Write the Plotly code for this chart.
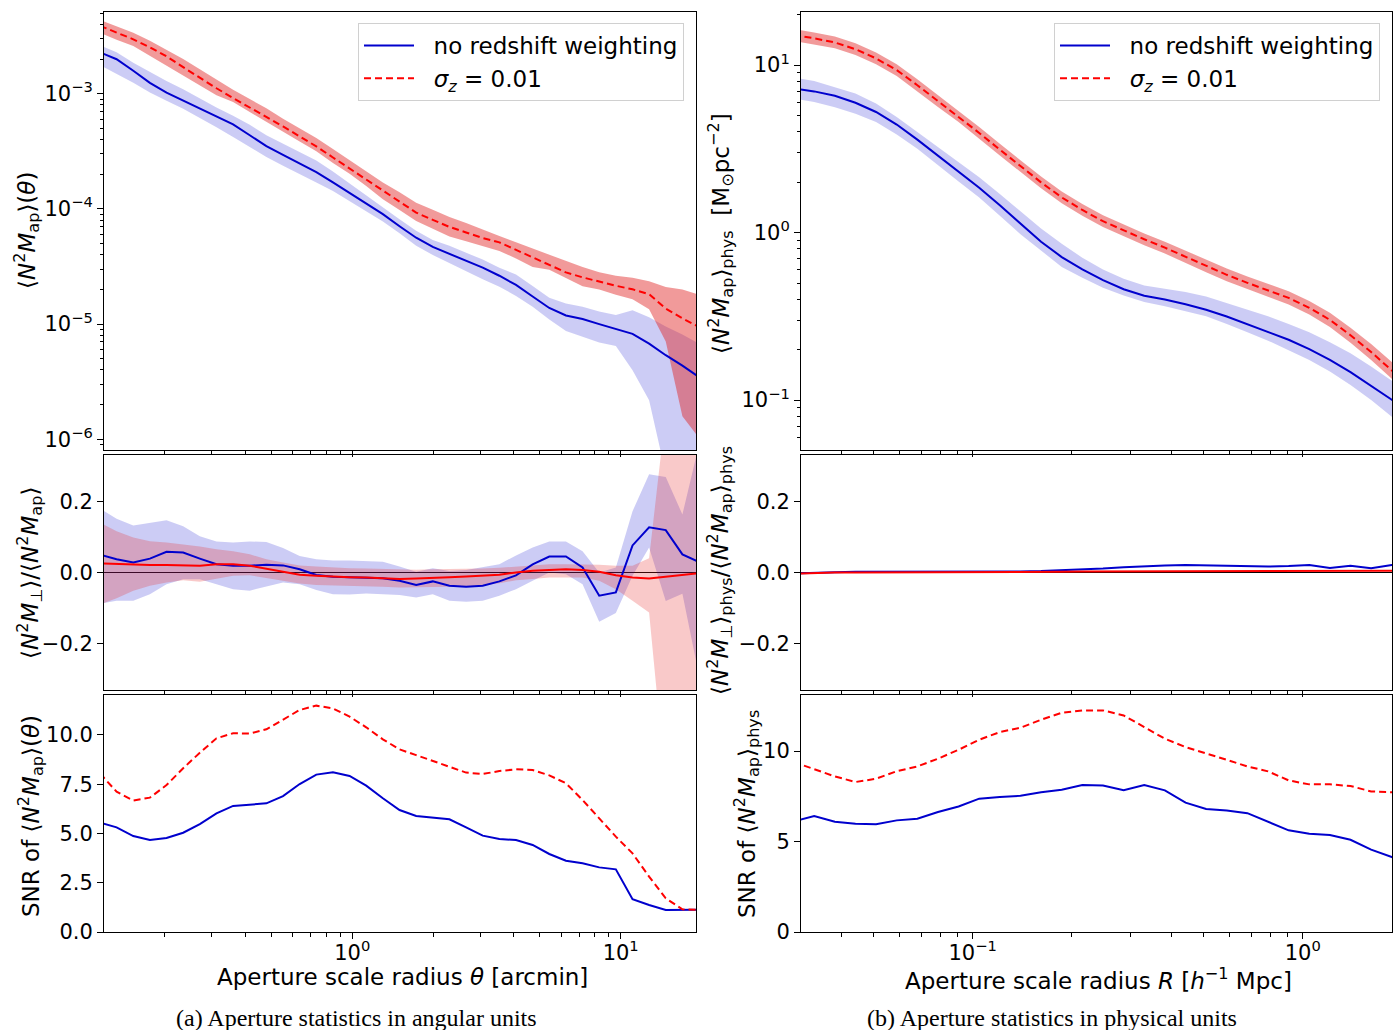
import plotly.graph_objects as go
from plotly.subplots import make_subplots

# ---------------- data ----------------
# aperture radii in arcmin (left column)
theta = [0.1148, 0.1324, 0.1528, 0.1762, 0.2032, 0.2344, 0.2704, 0.3119, 0.3597, 0.4150,
         0.4786, 0.5521, 0.6368, 0.7345, 0.8472, 0.9772, 1.127, 1.300, 1.500, 1.730,
         1.995, 2.301, 2.655, 3.062, 3.532, 4.074, 4.699, 5.420, 6.252, 7.211,
         8.318, 9.594, 11.07, 12.76, 14.72, 16.98, 19.59]

# <N^2 Map>(theta), stored as log10 values
top_blue_ang = [-2.64, -2.70, -2.80, -2.905, -2.99, -3.06, -3.13, -3.195, -3.265, -3.36,
                -3.455, -3.53, -3.605, -3.68, -3.77, -3.86, -3.95, -4.045, -4.15, -4.25,
                -4.33, -4.39, -4.445, -4.51, -4.58, -4.66, -4.76, -4.86, -4.925, -4.955,
                -5.00, -5.04, -5.085, -5.17, -5.27, -5.36, -5.46]
top_blue_ang_hi = [-2.58, -2.64, -2.73, -2.81, -2.89, -2.96, -3.04, -3.12, -3.19, -3.27,
                   -3.36, -3.435, -3.51, -3.58, -3.675, -3.78, -3.885, -3.985, -4.09, -4.19,
                   -4.27, -4.32, -4.38, -4.44, -4.51, -4.57, -4.67, -4.77, -4.82, -4.85,
                   -4.89, -4.92, -4.88, -4.94, -5.02, -5.09, -5.17]
top_blue_ang_lo = [-2.75, -2.83, -2.905, -2.99, -3.06, -3.13, -3.21, -3.29, -3.375, -3.46,
                   -3.55, -3.625, -3.70, -3.77, -3.845, -3.93, -4.02, -4.11, -4.21, -4.32,
                   -4.40, -4.47, -4.54, -4.61, -4.675, -4.755, -4.85, -4.96, -5.06, -5.11,
                   -5.16, -5.19, -5.40, -5.66, -6.30, -7.00, -7.00]
top_red_ang = [-2.41, -2.468, -2.527, -2.597, -2.675, -2.769, -2.861, -2.952, -3.037, -3.118,
               -3.198, -3.284, -3.37, -3.457, -3.553, -3.648, -3.746, -3.844, -3.939, -4.032,
               -4.095, -4.156, -4.204, -4.252, -4.29, -4.355, -4.423, -4.487, -4.551, -4.594,
               -4.633, -4.667, -4.698, -4.74, -4.865, -4.95, -5.025]
top_red_ang_hi = [-2.36, -2.416, -2.47, -2.54, -2.618, -2.697, -2.788, -2.88, -2.965, -3.046,
                  -3.126, -3.216, -3.298, -3.385, -3.48, -3.575, -3.67, -3.771, -3.855, -3.946,
                  -4.008, -4.07, -4.123, -4.176, -4.235, -4.29, -4.345, -4.40, -4.455, -4.505,
                  -4.55, -4.58, -4.597, -4.628, -4.678, -4.70, -4.745]
top_red_ang_lo = [-2.47, -2.53, -2.585, -2.665, -2.75, -2.84, -2.926, -3.012, -3.072, -3.158,
                  -3.244, -3.33, -3.415, -3.50, -3.60, -3.695, -3.80, -3.915, -4.01, -4.104,
                  -4.17, -4.24, -4.28, -4.32, -4.365, -4.43, -4.505, -4.529, -4.60, -4.672,
                  -4.70, -4.745, -4.785, -4.87, -5.15, -5.80, -5.99]

# <N^2 M_perp>/<N^2 Map>
mid_blue_ang = [0.050, 0.037, 0.028, 0.039, 0.058, 0.056, 0.039, 0.023, 0.019, 0.019,
                0.022, 0.020, 0.009, -0.007, -0.012, -0.013, -0.014, -0.016, -0.023, -0.035,
                -0.025, -0.037, -0.040, -0.037, -0.025, -0.008, 0.023, 0.045, 0.045, 0.014,
                -0.065, -0.056, 0.076, 0.127, 0.119, 0.051, 0.029]
mid_blue_ang_hi = [0.180, 0.151, 0.132, 0.140, 0.147, 0.130, 0.102, 0.087, 0.084, 0.087,
                   0.086, 0.069, 0.046, 0.037, 0.034, 0.034, 0.032, 0.030, 0.017, 0.002,
                   0.012, 0.004, 0.007, 0.014, 0.023, 0.048, 0.070, 0.087, 0.087, 0.060,
                   0.000, 0.014, 0.172, 0.276, 0.268, 0.163, 0.360]
mid_blue_ang_lo = [-0.088, -0.079, -0.079, -0.061, -0.033, -0.019, -0.019, -0.033, -0.047, -0.051,
                   -0.039, -0.028, -0.033, -0.049, -0.061, -0.062, -0.059, -0.060, -0.063, -0.070,
                   -0.061, -0.079, -0.082, -0.079, -0.065, -0.047, -0.023, 0.000, -0.005, -0.033,
                   -0.138, -0.114, -0.009, 0.070, -0.080, -0.060, -0.290]
mid_red_ang = [0.026, 0.024, 0.021, 0.021, 0.021, 0.019, 0.019, 0.023, 0.023, 0.019,
               0.011, 0.002, -0.006, -0.009, -0.012, -0.013, -0.014, -0.016, -0.018, -0.017,
               -0.016, -0.013, -0.011, -0.009, -0.006, 0.000, 0.005, 0.007, 0.009, 0.007,
               0.002, -0.008, -0.014, -0.017, -0.012, -0.009, -0.002]
mid_red_ang_hi = [0.140, 0.116, 0.098, 0.088, 0.084, 0.079, 0.073, 0.065, 0.060, 0.051,
                  0.037, 0.028, 0.020, 0.017, 0.014, 0.012, 0.011, 0.010, 0.008, 0.008,
                  0.009, 0.009, 0.010, 0.011, 0.013, 0.017, 0.020, 0.023, 0.023, 0.023,
                  0.022, 0.019, 0.019, 0.040, 0.450, 0.700, 0.700]
mid_red_ang_lo = [-0.090, -0.072, -0.051, -0.037, -0.028, -0.022, -0.026, -0.017, -0.009, -0.008,
                  -0.014, -0.023, -0.031, -0.035, -0.037, -0.038, -0.039, -0.040, -0.042, -0.041,
                  -0.042, -0.040, -0.039, -0.036, -0.030, -0.022, -0.018, -0.014, -0.014, -0.014,
                  -0.023, -0.047, -0.079, -0.112, -0.600, -0.600, -0.450]

# SNR in angular units
snr_blue_ang = [5.55, 5.31, 4.87, 4.67, 4.77, 5.04, 5.48, 6.02, 6.40, 6.46,
                6.53, 6.90, 7.51, 7.99, 8.11, 7.92, 7.43, 6.79, 6.19, 5.89,
                5.82, 5.72, 5.31, 4.89, 4.72, 4.67, 4.42, 3.96, 3.62, 3.49,
                3.28, 3.18, 1.66, 1.37, 1.12, 1.13, 1.13]
snr_red_ang = [8.05, 7.12, 6.67, 6.82, 7.46, 8.31, 9.10, 9.83, 10.09, 10.07,
               10.29, 10.76, 11.27, 11.49, 11.35, 10.93, 10.39, 9.78, 9.27, 8.98,
               8.68, 8.36, 8.09, 8.02, 8.17, 8.26, 8.22, 7.95, 7.55, 6.70,
               5.77, 4.84, 3.99, 2.81, 1.71, 1.15, 1.12]

# aperture radii in h^-1 Mpc (right column)
r_phys = [0.02868, 0.03311, 0.03824, 0.04416, 0.05098, 0.05888, 0.06799, 0.07852, 0.09066, 0.1047,
          0.1209, 0.1396, 0.1612, 0.1862, 0.2150, 0.2483, 0.2868, 0.3311, 0.3824, 0.4416,
          0.5098, 0.5888, 0.6799, 0.7852, 0.9066, 1.047, 1.209, 1.396, 1.612, 1.862, 2.150]

# <N^2 Map>_phys, stored as log10 values
top_blue_phys = [0.86, 0.843, 0.817, 0.775, 0.72, 0.645, 0.555, 0.458, 0.366, 0.268,
                 0.163, 0.053, -0.055, -0.146, -0.219, -0.284, -0.338, -0.377, -0.40, -0.428,
                 -0.461, -0.501, -0.547, -0.593, -0.640, -0.696, -0.760, -0.833, -0.915, -1.00, -1.08]
top_blue_phys_hi = [0.925, 0.905, 0.868, 0.83, 0.77, 0.69, 0.60, 0.51, 0.42, 0.33,
                    0.23, 0.126, 0.025, -0.067, -0.15, -0.22, -0.275, -0.316, -0.335, -0.355,
                    -0.382, -0.421, -0.461, -0.50, -0.545, -0.595, -0.655, -0.72, -0.80, -0.885, -0.96]
top_blue_phys_lo = [0.80, 0.78, 0.748, 0.71, 0.66, 0.585, 0.50, 0.40, 0.305, 0.21,
                    0.10, -0.01, -0.11, -0.205, -0.27, -0.33, -0.375, -0.415, -0.44, -0.47,
                    -0.50, -0.545, -0.595, -0.645, -0.70, -0.76, -0.83, -0.91, -1.00, -1.10, -1.20]
top_red_phys = [1.18, 1.16, 1.135, 1.095, 1.04, 0.97, 0.88, 0.785, 0.695, 0.595,
                0.495, 0.395, 0.30, 0.21, 0.135, 0.068, 0.012, -0.04, -0.09, -0.145,
                -0.20, -0.252, -0.30, -0.345, -0.39, -0.449, -0.521, -0.613, -0.713, -0.823, -0.92]
top_red_phys_hi = [1.215, 1.195, 1.17, 1.13, 1.075, 1.005, 0.915, 0.82, 0.73, 0.63,
                   0.53, 0.43, 0.335, 0.245, 0.17, 0.103, 0.047, -0.005, -0.055, -0.108,
                   -0.163, -0.214, -0.262, -0.306, -0.35, -0.409, -0.479, -0.568, -0.665, -0.773, -0.87]
top_red_phys_lo = [1.145, 1.125, 1.10, 1.06, 1.005, 0.935, 0.845, 0.75, 0.66, 0.56,
                   0.46, 0.36, 0.265, 0.175, 0.10, 0.033, -0.023, -0.075, -0.125, -0.182,
                   -0.237, -0.29, -0.338, -0.384, -0.43, -0.489, -0.563, -0.658, -0.761, -0.873, -0.97]

# <N^2 M_perp>_phys / <N^2 Map>_phys
mid_blue_phys = [-0.003, 0.000, 0.001, 0.002, 0.002, 0.001, 0.001, 0.001, 0.001, 0.001,
                 0.002, 0.003, 0.004, 0.006, 0.008, 0.011, 0.015, 0.018, 0.020, 0.021,
                 0.020, 0.018, 0.017, 0.017, 0.018, 0.021, 0.013, 0.019, 0.012, 0.021, 0.022]
mid_red_phys = [-0.003, -0.001, 0.000, 0.000, 0.000, 0.000, 0.000, 0.000, 0.000, 0.000,
                0.001, 0.001, 0.002, 0.002, 0.003, 0.003, 0.003, 0.003, 0.003, 0.003,
                0.004, 0.004, 0.004, 0.004, 0.004, 0.005, 0.005, 0.005, 0.005, 0.005, 0.005]

# SNR in physical units
snr_blue_phys = [6.11, 6.41, 6.10, 5.99, 5.95, 6.17, 6.26, 6.63, 6.94, 7.37,
                 7.46, 7.53, 7.73, 7.86, 8.12, 8.10, 7.83, 8.12, 7.83, 7.15,
                 6.80, 6.72, 6.57, 6.08, 5.62, 5.43, 5.36, 5.10, 4.55, 4.14, 3.80]
snr_red_phys = [9.40, 8.99, 8.60, 8.29, 8.47, 8.89, 9.15, 9.58, 10.07, 10.63,
                11.05, 11.29, 11.73, 12.12, 12.25, 12.25, 11.97, 11.33, 10.68, 10.22,
                9.89, 9.52, 9.15, 8.88, 8.38, 8.16, 8.16, 8.07, 7.77, 7.70, 7.68]

# ---------------- styling ----------------
FONT = "DejaVu Sans"
BLUE = "#0000cd"
RED = "#ff0000"
BLUE_FILL = "rgba(0,0,205,0.2)"
RED_FILL_TOP = "rgba(225,30,30,0.45)"
RED_FILL_MID = "rgba(230,40,40,0.25)"
DASH = "7px,4px"

W, H = 1400, 1030


def px_x(p):
    return p / W


def px_y(p):
    return 1 - p / H


def unlog(vals):
    return [10 ** v for v in vals]


fig = make_subplots(rows=3, cols=2)


def add_band(x, lo, hi, color, row, col):
    fig.add_trace(go.Scatter(x=list(x) + list(x)[::-1], y=list(hi) + list(lo)[::-1],
                             mode="lines", fill="toself", fillcolor=color,
                             line=dict(width=0), hoverinfo="skip", showlegend=False),
                  row=row, col=col)


def add_line(x, y, color, row, col, dash="solid", name=None, legend=None):
    fig.add_trace(go.Scatter(x=x, y=y, mode="lines", name=name,
                             line=dict(color=color, width=2, dash=dash),
                             showlegend=name is not None,
                             legend=legend if legend else "legend"),
                  row=row, col=col)


NBSP = "\u00a0\u00a0"
LBL_BLUE = NBSP + "no redshift weighting"
LBL_RED = NBSP + "<i>σ</i><sub><i>z</i></sub> = 0.01"

# left column: angular units
add_band(theta, unlog(top_blue_ang_lo), unlog(top_blue_ang_hi), BLUE_FILL, 1, 1)
add_band(theta, unlog(top_red_ang_lo), unlog(top_red_ang_hi), RED_FILL_TOP, 1, 1)
add_line(theta, unlog(top_blue_ang), BLUE, 1, 1, name=LBL_BLUE, legend="legend")
add_line(theta, unlog(top_red_ang), RED, 1, 1, dash=DASH, name=LBL_RED, legend="legend")

add_band(theta, mid_blue_ang_lo, mid_blue_ang_hi, BLUE_FILL, 2, 1)
add_band(theta, mid_red_ang_lo, mid_red_ang_hi, RED_FILL_MID, 2, 1)
add_line(theta, mid_blue_ang, BLUE, 2, 1)
add_line(theta, mid_red_ang, RED, 2, 1)

add_line(theta, snr_blue_ang, BLUE, 3, 1)
add_line(theta, snr_red_ang, RED, 3, 1, dash=DASH)

# right column: physical units
add_band(r_phys, unlog(top_blue_phys_lo), unlog(top_blue_phys_hi), BLUE_FILL, 1, 2)
add_band(r_phys, unlog(top_red_phys_lo), unlog(top_red_phys_hi), RED_FILL_TOP, 1, 2)
add_line(r_phys, unlog(top_blue_phys), BLUE, 1, 2, name=LBL_BLUE, legend="legend2")
add_line(r_phys, unlog(top_red_phys), RED, 1, 2, dash=DASH, name=LBL_RED, legend="legend2")

add_line(r_phys, mid_blue_phys, BLUE, 2, 2)
add_line(r_phys, mid_red_phys, RED, 2, 2)

add_line(r_phys, snr_blue_phys, BLUE, 3, 2)
add_line(r_phys, snr_red_phys, RED, 3, 2, dash=DASH)

# ---------------- axes ----------------
tick_font = dict(family=FONT, size=21, color="black")
common = dict(showline=True, linecolor="black", linewidth=1, mirror=True,
              ticks="outside", ticklen=6, tickwidth=1, tickcolor="black",
              showgrid=False, zeroline=False, tickfont=tick_font, automargin=False)


def minor_log(lo_exp, hi_exp):
    return [k * 10 ** e for e in range(lo_exp, hi_exp) for k in range(2, 10)]


minor_style = dict(ticks="outside", ticklen=3.5, tickwidth=1, tickcolor="black",
                   tickmode="array", showgrid=False)

left_dom = [px_x(104), px_x(696)]
right_dom = [px_x(801), px_x(1392)]
row_dom = {1: [px_y(450), px_y(12)], 2: [px_y(690), px_y(455)], 3: [px_y(932), px_y(695)]}

for row in (1, 2, 3):
    n_left = 2 * row - 1
    n_right = 2 * row
    fig.update_layout({
        f"xaxis{n_left}": dict(common, type="log", domain=left_dom, range=[-0.925, 1.2806],
                               tickmode="array", tickvals=[1, 10],
                               ticktext=["10<sup>0</sup>", "10<sup>1</sup>"],
                               showticklabels=(row == 3), ticklabelstandoff=-4,
                               minor=dict(minor_style, tickvals=minor_log(-1, 2))),
        f"xaxis{n_right}": dict(common, type="log", domain=right_dom, range=[-1.520, 0.2706],
                                tickmode="array", tickvals=[0.1, 1],
                                ticktext=["10<sup>−1</sup>", "10<sup>0</sup>"],
                                showticklabels=(row == 3), ticklabelstandoff=-4,
                                minor=dict(minor_style, tickvals=minor_log(-2, 1))),
    })

fig.update_layout(
    yaxis=dict(common, type="log", domain=row_dom[1], range=[-6.093, -2.290],
               tickmode="array", tickvals=[1e-6, 1e-5, 1e-4, 1e-3],
               ticktext=["10<sup>−6</sup>", "10<sup>−5</sup>", "10<sup>−4</sup>", "10<sup>−3</sup>"],
               minor=dict(minor_style, tickvals=minor_log(-7, -2))),
    yaxis2=dict(common, type="log", domain=row_dom[1], range=[-1.298, 1.317],
                tickmode="array", tickvals=[0.1, 1, 10],
                ticktext=["10<sup>−1</sup>", "10<sup>0</sup>", "10<sup>1</sup>"],
                minor=dict(minor_style, tickvals=minor_log(-2, 2))),
    yaxis3=dict(common, domain=row_dom[2], range=[-0.33, 0.33],
                tickmode="array", tickvals=[-0.2, 0, 0.2], ticktext=["−0.2", "0.0", "0.2"],
                zeroline=True, zerolinecolor="black", zerolinewidth=1),
    yaxis4=dict(common, domain=row_dom[2], range=[-0.33, 0.33],
                tickmode="array", tickvals=[-0.2, 0, 0.2], ticktext=["−0.2", "0.0", "0.2"],
                zeroline=True, zerolinecolor="black", zerolinewidth=1),
    yaxis5=dict(common, domain=row_dom[3], range=[0, 12.03],
                tickmode="array", tickvals=[0, 2.5, 5, 7.5, 10],
                ticktext=["0.0", "2.5", "5.0", "7.5", "10.0"]),
    yaxis6=dict(common, domain=row_dom[3], range=[0, 13.1],
                tickmode="array", tickvals=[0, 5, 10], ticktext=["0", "5", "10"]),
)

# ---------------- titles and captions ----------------
NMAP = "⟨<i>N</i><sup>2</sup><i>M</i><sub>ap</sub>⟩"
NPERP = "⟨<i>N</i><sup>2</sup><i>M</i><sub>⊥</sub>⟩"
title_font = dict(family=FONT, size=23, color="black")

ytitles = [
    (27, 231, NMAP + "(<i>θ</i>)"),
    (29, 573, NPERP + "/" + NMAP),
    (30, 816, "SNR of " + NMAP + "(<i>θ</i>)"),
    (721, 234, NMAP + "<sub>phys</sub>  [M<sub>⊙</sub>pc<sup>−2</sup>]"),
    (719, 571, NPERP + "<sub>phys</sub>/" + NMAP + "<sub>phys</sub>"),
    (746, 814, "SNR of " + NMAP + "<sub>phys</sub>"),
]
annotations = []
for x, y, txt in ytitles:
    annotations.append(dict(x=px_x(x), y=px_y(y), xref="paper", yref="paper", text=txt,
                            textangle=-90, showarrow=False, font=title_font,
                            xanchor="center", yanchor="middle"))

annotations.append(dict(x=px_x(402), y=px_y(977), xref="paper", yref="paper",
                        text="Aperture scale radius <i>θ</i> [arcmin]", showarrow=False,
                        font=title_font, xanchor="center", yanchor="middle"))
annotations.append(dict(x=px_x(1098), y=px_y(979), xref="paper", yref="paper",
                        text="Aperture scale radius <i>R</i> [<i>h</i><sup>−1</sup> Mpc]",
                        showarrow=False, font=title_font, xanchor="center", yanchor="middle"))

cap_font = dict(family="Liberation Serif", size=24, color="black")
annotations.append(dict(x=px_x(356), y=px_y(1018), xref="paper", yref="paper",
                        text="(a) Aperture statistics in angular units", showarrow=False,
                        font=cap_font, xanchor="center", yanchor="middle"))
annotations.append(dict(x=px_x(1052), y=px_y(1018), xref="paper", yref="paper",
                        text="(b) Aperture statistics in physical units", showarrow=False,
                        font=cap_font, xanchor="center", yanchor="middle"))

legend_style = dict(xanchor="right", yanchor="top", bgcolor="rgba(255,255,255,0.8)",
                    bordercolor="#d0d0d0", borderwidth=1, itemwidth=50,
                    font=dict(family=FONT, size=23, color="black"), tracegroupgap=0)

fig.update_layout(
    width=W, height=H,
    margin=dict(l=0, r=0, t=0, b=0, autoexpand=False),
    paper_bgcolor="white", plot_bgcolor="white",
    font=dict(family=FONT, color="black"),
    annotations=annotations,
    legend=dict(legend_style, x=px_x(684), y=px_y(23)),
    legend2=dict(legend_style, x=px_x(1380), y=px_y(23)),
)

# the page's default body margin would shift the figure; remove it
fig.write_html("out.html", config={"displayModeBar": False},
               post_script="document.body.style.margin = '0px';")
